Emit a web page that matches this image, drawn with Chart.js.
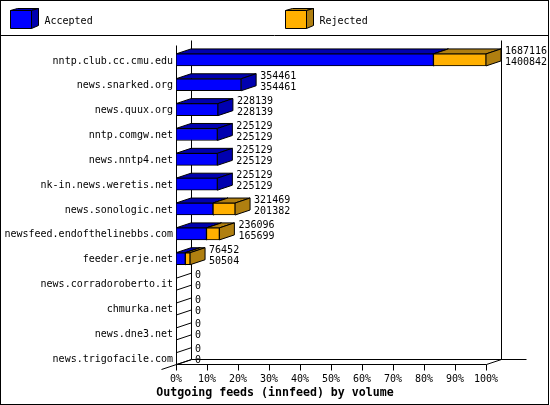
<!DOCTYPE html>
<html>
<head>
<meta charset="utf-8">
<title>Outgoing feeds (innfeed) by volume</title>
<script src="https://cdn.jsdelivr.net/npm/chart.js@4/dist/chart.umd.min.js"></script>
<style>
html, body { margin: 0; padding: 0; background: #fff; }
canvas { display: block; }
</style>
</head>
<body>
<canvas id="chart" width="550" height="405"></canvas>
<script>
const hosts = [
    "nntp.club.cc.cmu.edu", "news.snarked.org", "news.quux.org", "nntp.comgw.net",
    "news.nntp4.net", "nk-in.news.weretis.net", "news.sonologic.net",
    "newsfeed.endofthelinebbs.com", "feeder.erje.net", "news.corradoroberto.it",
    "chmurka.net", "news.dne3.net", "news.trigofacile.com",
];
const accepted = [1400842, 354461, 228139, 225129, 225129, 225129, 201382, 165699, 50504, 0, 0, 0, 0];
const rejected = [286274, 0, 0, 0, 0, 0, 120087, 70397, 25948, 0, 0, 0, 0];
const totals = [1687116, 354461, 228139, 225129, 225129, 225129, 321469, 236096, 76452, 0, 0, 0, 0];
const percentTicks = [0, 10, 20, 30, 40, 50, 60, 70, 80, 90, 100];
const axisMax = 1687116;

const MONO = "'DejaVu Sans Mono', monospace";
const DEPTH_X = 15;
const DEPTH_Y = 5;
const BLUE = "#0000ff", BLUE_DARK = "#0000b0";
const ORANGE = "#ffb000", ORANGE_DARK = "#b07f10";

function line(ctx, x1, y1, x2, y2) {
    ctx.beginPath();
    ctx.moveTo(x1 + 0.5, y1 + 0.5);
    ctx.lineTo(x2 + 0.5, y2 + 0.5);
    ctx.stroke();
}

function poly(ctx, pts, fill) {
    ctx.beginPath();
    pts.forEach((p, i) => (i ? ctx.lineTo(p[0], p[1]) : ctx.moveTo(p[0], p[1])));
    ctx.closePath();
    ctx.fillStyle = fill;
    ctx.fill();
    ctx.stroke();
}

// 3D side and top of one bar segment, the front comes from Chart.js
function drawDepth(ctx, left, right, top, bottom, dark) {
    poly(ctx, [[left, top], [left + DEPTH_X, top - DEPTH_Y], [right + DEPTH_X, top - DEPTH_Y], [right, top]], dark);
    poly(ctx, [[right, top], [right + DEPTH_X, top - DEPTH_Y], [right + DEPTH_X, bottom - DEPTH_Y], [right, bottom]], dark);
}

function drawSwatch(ctx, x, label, front, dark) {
    ctx.lineWidth = 1;
    ctx.strokeStyle = "#000";
    poly(ctx, [[x, 10.5], [x + 7, 8.5], [x + 28, 8.5], [x + 21, 10.5]], dark);
    poly(ctx, [[x + 21, 10.5], [x + 28, 8.5], [x + 28, 25.5], [x + 21, 28.5]], dark);
    poly(ctx, [[x, 10.5], [x + 21, 10.5], [x + 21, 28.5], [x, 28.5]], front);
    ctx.fillStyle = "#000";
    ctx.font = "10px " + MONO;
    ctx.textAlign = "left";
    ctx.textBaseline = "middle";
    ctx.fillText(label, x + 34, 21.5);
}

const frame3d = {
    id: "frame3d",
    beforeDraw(chart) {
        // long host names run into the left padding, do not clip them
        chart.scales.y.left = 0;
    },
    beforeDatasetsDraw(chart) {
        const ctx = chart.ctx;
        const xs = chart.scales.x, ys = chart.scales.y;
        const x0 = Math.round(xs.getPixelForValue(0));
        const x100 = Math.round(xs.getPixelForValue(axisMax));
        const floor = Math.round(ys.getPixelForValue(hosts.length - 1) + 6);
        ctx.save();
        ctx.strokeStyle = "#000";
        ctx.lineWidth = 1;
        // walls and floor
        line(ctx, x0, 45, x0, floor);
        line(ctx, x0 + DEPTH_X, 40, x0 + DEPTH_X, floor - DEPTH_Y);
        line(ctx, x100 + DEPTH_X, 40, x100 + DEPTH_X, floor - DEPTH_Y);
        line(ctx, x0 + DEPTH_X, floor - DEPTH_Y, 526, floor - DEPTH_Y);
        line(ctx, x0, floor, x100, floor);
        line(ctx, 161, floor + 5, x0 + DEPTH_X, floor - DEPTH_Y);
        line(ctx, x100, floor, x100 + DEPTH_X, floor - DEPTH_Y);
        percentTicks.forEach((p) => {
            const tx = Math.round(xs.getPixelForValue(p * axisMax / 100));
            line(ctx, tx, floor, tx, floor + 6);
        });
        hosts.forEach((h, i) => {
            const a = chart.getDatasetMeta(0).data[i];
            const top = a.y - 6, bottom = a.y + 6;
            if (totals[i] === 0) {
                // empty rows only leave two slanted edges on the side wall
                line(ctx, a.base, top, a.base + DEPTH_X, top - DEPTH_Y);
                line(ctx, a.base, bottom, a.base + DEPTH_X, bottom - DEPTH_Y);
                return;
            }
            drawDepth(ctx, a.base, a.x, top, bottom, BLUE_DARK);
            if (rejected[i] > 0) {
                const r = chart.getDatasetMeta(1).data[i];
                drawDepth(ctx, r.base, r.x, top, bottom, ORANGE_DARK);
            }
        });
        ctx.restore();
    },
    afterDraw(chart) {
        const ctx = chart.ctx;
        const xs = chart.scales.x, ys = chart.scales.y;
        ctx.save();
        // outer frame and legend rule
        ctx.strokeStyle = "#000";
        ctx.lineWidth = 1;
        ctx.strokeRect(0.5, 0.5, 548, 404);
        line(ctx, 0, 35, 548, 35);
        drawSwatch(ctx, 10.5, "Accepted", BLUE, BLUE_DARK);
        drawSwatch(ctx, 285.5, "Rejected", ORANGE, ORANGE_DARK);
        // value labels next to each bar
        ctx.fillStyle = "#000";
        ctx.font = "10px " + MONO;
        ctx.textAlign = "left";
        ctx.textBaseline = "middle";
        hosts.forEach((h, i) => {
            const lx = xs.getPixelForValue(totals[i]) + DEPTH_X + 4;
            const cy = ys.getPixelForValue(i);
            ctx.fillText(String(totals[i]), lx, cy - 8.5);
            ctx.fillText(String(accepted[i]), lx, cy + 2.5);
        });
        ctx.restore();
    },
};

const barStyle = {
    borderColor: "#000",
    borderWidth: 1,
    borderSkipped: false,
    barThickness: 12,
};

new Chart(document.getElementById("chart"), {
    type: "bar",
    data: {
        labels: hosts,
        datasets: [
            { label: "Accepted", data: accepted, backgroundColor: BLUE, ...barStyle },
            { label: "Rejected", data: rejected, backgroundColor: ORANGE, ...barStyle },
        ],
    },
    options: {
        indexAxis: "y",
        responsive: false,
        animation: false,
        devicePixelRatio: 1,
        // equal side padding keeps the title centred on the whole image
        layout: { padding: { top: 47.5, right: 64, left: 64, bottom: 0 } },
        plugins: {
            legend: { display: false },
            tooltip: { enabled: false },
            title: {
                display: true,
                position: "bottom",
                text: "Outgoing feeds (innfeed) by volume",
                color: "#000",
                font: { family: MONO, size: 11.6, weight: "bold", lineHeight: 1.2 },
                padding: { top: 0, bottom: 5 },
            },
        },
        scales: {
            x: {
                stacked: true,
                min: 0,
                max: axisMax,
                afterBuildTicks(scale) {
                    scale.ticks = percentTicks.map((p) => ({ value: p * axisMax / 100 }));
                },
                afterFit(scale) { scale.height = 15.5; },
                grid: { display: false, drawTicks: false, tickLength: 0 },
                border: { display: false },
                ticks: {
                    color: "#000",
                    padding: 2.5,
                    maxRotation: 0,
                    autoSkip: false,
                    font: { family: MONO, size: 10 },
                    callback: (v, i) => percentTicks[i] + "%",
                },
            },
            y: {
                stacked: true,
                afterFit(scale) { scale.width = 112; },
                grid: { display: false, drawTicks: false, tickLength: 0 },
                border: { display: false },
                ticks: {
                    color: "#000",
                    padding: 3,
                    labelOffset: 1,
                    autoSkip: false,
                    font: { family: MONO, size: 10 },
                },
            },
        },
    },
    plugins: [frame3d],
});
</script>
</body>
</html>
